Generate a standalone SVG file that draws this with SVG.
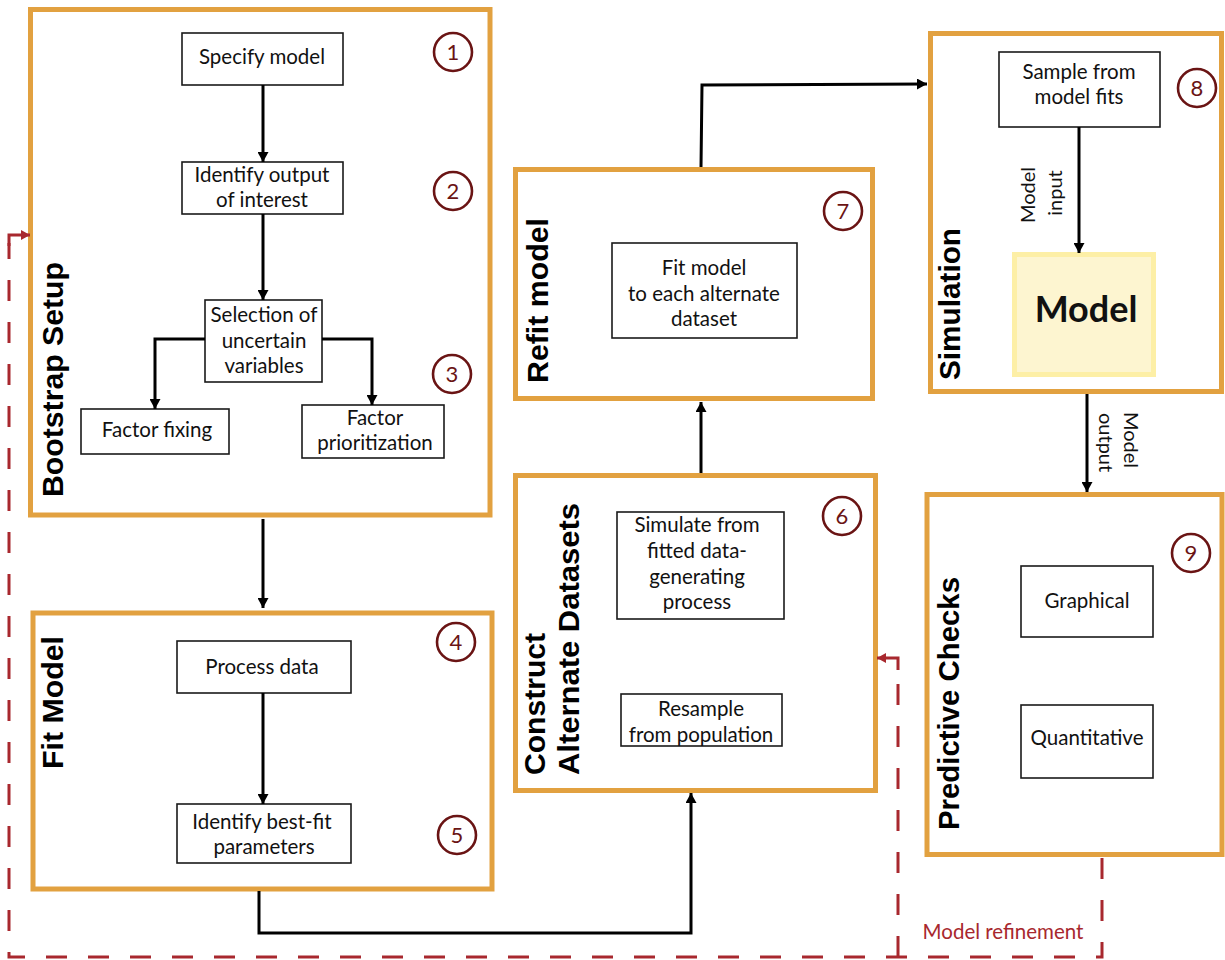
<svg xmlns="http://www.w3.org/2000/svg" width="1225" height="960" viewBox="0 0 1225 960">
  <defs>
    <style>
      .stage { fill: #ffffff; stroke: #e2a140; stroke-width: 5; }
      .box { fill: #ffffff; stroke: #1a1a1a; stroke-width: 1.6; }
      .txt { font-family: Lato, "Open Sans", sans-serif; font-size: 20.5px; fill: #111111; text-anchor: middle; }
      .title { font-family: "Liberation Sans", Arial, sans-serif; font-weight: bold; font-size: 29px; fill: #000000; }
      .num-ring { fill: #ffffff; stroke: #6a1414; stroke-width: 2.6; }
      .num { font-family: Lato, "Open Sans", sans-serif; font-size: 22px; fill: #6a1414; text-anchor: middle; }
      .wire { fill: none; stroke: #000000; stroke-width: 3; }
      .loop { fill: none; stroke: #a8282e; stroke-width: 3; stroke-dasharray: 21 21; }
      .loop-solid { fill: none; stroke: #a8282e; stroke-width: 3; }
      .lbl { font-family: Lato, "Open Sans", sans-serif; font-size: 20px; fill: #111111; }
    </style>
    <marker id="arrow" markerUnits="userSpaceOnUse" markerWidth="11" markerHeight="11" refX="10" refY="5.5" orient="auto">
      <path d="M0,0 L10,5.5 L0,11 z" fill="#000000"/>
    </marker>
    <marker id="arrow-red" markerUnits="userSpaceOnUse" markerWidth="10" markerHeight="10" refX="9" refY="5" orient="auto">
      <path d="M0,0 L9,5 L0,10 z" fill="#a8282e"/>
    </marker>
  </defs>

  <rect width="1225" height="960" fill="#ffffff"/>

  <!-- stage 1-3 -->
  <g id="bootstrap-setup">
    <rect class="stage" x="30.5" y="9.5" width="459.5" height="505.5"/>
    <text class="title" transform="translate(63,497) rotate(-90)" textLength="235" lengthAdjust="spacingAndGlyphs">Bootstrap Setup</text>
    <g id="specify-model">
      <rect class="box" x="182" y="33" width="161" height="52"/>
      <text class="txt" x="262" y="64">Specify model</text>
    </g>
    <g id="identify-output">
      <rect class="box" x="182" y="162" width="161" height="52"/>
      <text class="txt" x="262" y="182">Identify output</text>
      <text class="txt" x="262" y="207">of interest</text>
    </g>
    <g id="selection">
      <rect class="box" x="205" y="300" width="117" height="82"/>
      <text class="txt" x="264" y="322">Selection of</text>
      <text class="txt" x="264" y="348">uncertain</text>
      <text class="txt" x="264" y="373">variables</text>
    </g>
    <g id="factor-fixing">
      <rect class="box" x="81" y="409" width="148" height="45"/>
      <text class="txt" x="157" y="437">Factor fixing</text>
    </g>
    <g id="factor-prioritization">
      <rect class="box" x="302" y="405" width="142" height="53"/>
      <text class="txt" x="375" y="425">Factor</text>
      <text class="txt" x="375" y="450">prioritization</text>
    </g>
    <circle class="num-ring" cx="453" cy="52" r="19"/>
    <text class="num" x="453" y="59.5">1</text>
    <circle class="num-ring" cx="453" cy="191" r="19"/>
    <text class="num" x="453" y="198.5">2</text>
    <circle class="num-ring" cx="452" cy="374" r="19"/>
    <text class="num" x="452" y="381.5">3</text>
  </g>

  <!-- stage 4-5 -->
  <g id="fit-model">
    <rect class="stage" x="33" y="613" width="459" height="276"/>
    <text class="title" transform="translate(63,769) rotate(-90)" textLength="133" lengthAdjust="spacingAndGlyphs">Fit Model</text>
    <g id="process-data">
      <rect class="box" x="177" y="641" width="174" height="52"/>
      <text class="txt" x="262" y="674">Process data</text>
    </g>
    <g id="best-fit">
      <rect class="box" x="177" y="804" width="174" height="59"/>
      <text class="txt" x="262" y="829">Identify best-fit</text>
      <text class="txt" x="264" y="854">parameters</text>
    </g>
    <circle class="num-ring" cx="456" cy="642" r="19"/>
    <text class="num" x="456" y="649.5">4</text>
    <circle class="num-ring" cx="457" cy="835" r="19"/>
    <text class="num" x="457" y="842.5">5</text>
  </g>

  <!-- stage 6 -->
  <g id="construct-datasets">
    <rect class="stage" x="515.5" y="475.5" width="360" height="315"/>
    <text class="title" transform="translate(545,775) rotate(-90)" textLength="142" lengthAdjust="spacingAndGlyphs">Construct</text>
    <text class="title" transform="translate(579,775) rotate(-90)" textLength="272" lengthAdjust="spacingAndGlyphs">Alternate Datasets</text>
    <g id="simulate-from">
      <rect class="box" x="617" y="512" width="167" height="107"/>
      <text class="txt" x="697" y="532">Simulate from</text>
      <text class="txt" x="697" y="558">fitted data-</text>
      <text class="txt" x="697" y="584">generating</text>
      <text class="txt" x="697" y="609">process</text>
    </g>
    <g id="resample">
      <rect class="box" x="621" y="694" width="161" height="52"/>
      <text class="txt" x="701" y="716">Resample</text>
      <text class="txt" x="701" y="742">from population</text>
    </g>
    <circle class="num-ring" cx="842" cy="516" r="19"/>
    <text class="num" x="842" y="523.5">6</text>
  </g>

  <!-- stage 7 -->
  <g id="refit-model">
    <rect class="stage" x="515.5" y="169.5" width="357" height="229"/>
    <text class="title" transform="translate(548,383) rotate(-90)" textLength="165" lengthAdjust="spacingAndGlyphs">Refit model</text>
    <g id="fit-each">
      <rect class="box" x="612" y="243" width="185" height="95"/>
      <text class="txt" x="704" y="275">Fit model</text>
      <text class="txt" x="704" y="301">to each alternate</text>
      <text class="txt" x="704" y="326">dataset</text>
    </g>
    <circle class="num-ring" cx="843" cy="211" r="19"/>
    <text class="num" x="843" y="218.5">7</text>
  </g>

  <!-- stage 8 -->
  <g id="simulation">
    <rect class="stage" x="930.5" y="33.5" width="291" height="358"/>
    <text class="title" transform="translate(960,380) rotate(-90)" textLength="152" lengthAdjust="spacingAndGlyphs">Simulation</text>
    <g id="sample-fits">
      <rect class="box" x="999" y="52" width="161" height="75"/>
      <text class="txt" x="1079" y="79">Sample from</text>
      <text class="txt" x="1079" y="104">model fits</text>
    </g>
    <g id="model-core">
      <rect x="1014.5" y="254.5" width="139" height="120" fill="#fdf5d0" stroke="#fdefa6" stroke-width="5"/>
      <text x="1086" y="322" font-family="Lato, 'Open Sans', sans-serif" font-weight="bold" font-size="36" fill="#111111" text-anchor="middle">Model</text>
    </g>
    <circle class="num-ring" cx="1197" cy="88" r="19"/>
    <text class="num" x="1197" y="95.5">8</text>
  </g>

  <!-- stage 9 -->
  <g id="predictive-checks">
    <rect class="stage" x="927" y="494.5" width="295" height="360"/>
    <text class="title" transform="translate(959,830) rotate(-90)" textLength="253" lengthAdjust="spacingAndGlyphs">Predictive Checks</text>
    <g id="graphical">
      <rect class="box" x="1021" y="566" width="132" height="71"/>
      <text class="txt" x="1087" y="608">Graphical</text>
    </g>
    <g id="quantitative">
      <rect class="box" x="1021" y="705" width="132" height="73"/>
      <text class="txt" x="1087" y="745">Quantitative</text>
    </g>
    <circle class="num-ring" cx="1191" cy="553" r="19"/>
    <text class="num" x="1191" y="560.5">9</text>
  </g>

  <!-- connectors between steps and stages -->
  <g id="connectors">
    <line class="wire" x1="263" y1="85" x2="263" y2="162" marker-end="url(#arrow)"/>
    <line class="wire" x1="263" y1="214" x2="263" y2="300" marker-end="url(#arrow)"/>
    <path class="wire" d="M205,339 L155,339 L155,409" marker-end="url(#arrow)"/>
    <path class="wire" d="M322,339 L372,339 L372,405" marker-end="url(#arrow)"/>
    <line class="wire" x1="263" y1="519" x2="263" y2="608" marker-end="url(#arrow)"/>
    <line class="wire" x1="263" y1="693" x2="263" y2="804" marker-end="url(#arrow)"/>
    <path class="wire" d="M259,891 L259,933 L691,933 L691,793" marker-end="url(#arrow)"/>
    <line class="wire" x1="701" y1="473" x2="701" y2="402" marker-end="url(#arrow)"/>
    <path class="wire" d="M701,167 L702,85 L927,84" marker-end="url(#arrow)"/>
    <line class="wire" x1="1079" y1="127" x2="1079" y2="253" marker-end="url(#arrow)"/>
    <line class="wire" x1="1087" y1="394" x2="1087" y2="492" marker-end="url(#arrow)"/>
    <text class="lbl" transform="translate(1035,195) rotate(-90)" text-anchor="middle">Model</text>
    <text class="lbl" transform="translate(1062,193) rotate(-90)" text-anchor="middle">input</text>
    <text class="lbl" transform="translate(1124,412) rotate(90)">Model</text>
    <text class="lbl" transform="translate(1099,413) rotate(90)">output</text>
  </g>

  <!-- feedback loop (model refinement) -->
  <g id="refinement-loop">
    <path class="loop" d="M1102,858 L1102,957 L9,957 L9,243"/>
    <path class="loop-solid" d="M9,246 L9,235 L30,235" marker-end="url(#arrow-red)"/>
    <path class="loop" d="M898,957 L898,667"/>
    <path class="loop-solid" d="M898,670 L898,658 L877,658" marker-end="url(#arrow-red)"/>
    <text x="1003" y="939" font-family="Lato, 'Open Sans', sans-serif" font-size="20.5" fill="#a8282e" text-anchor="middle">Model refinement</text>
  </g>
</svg>
